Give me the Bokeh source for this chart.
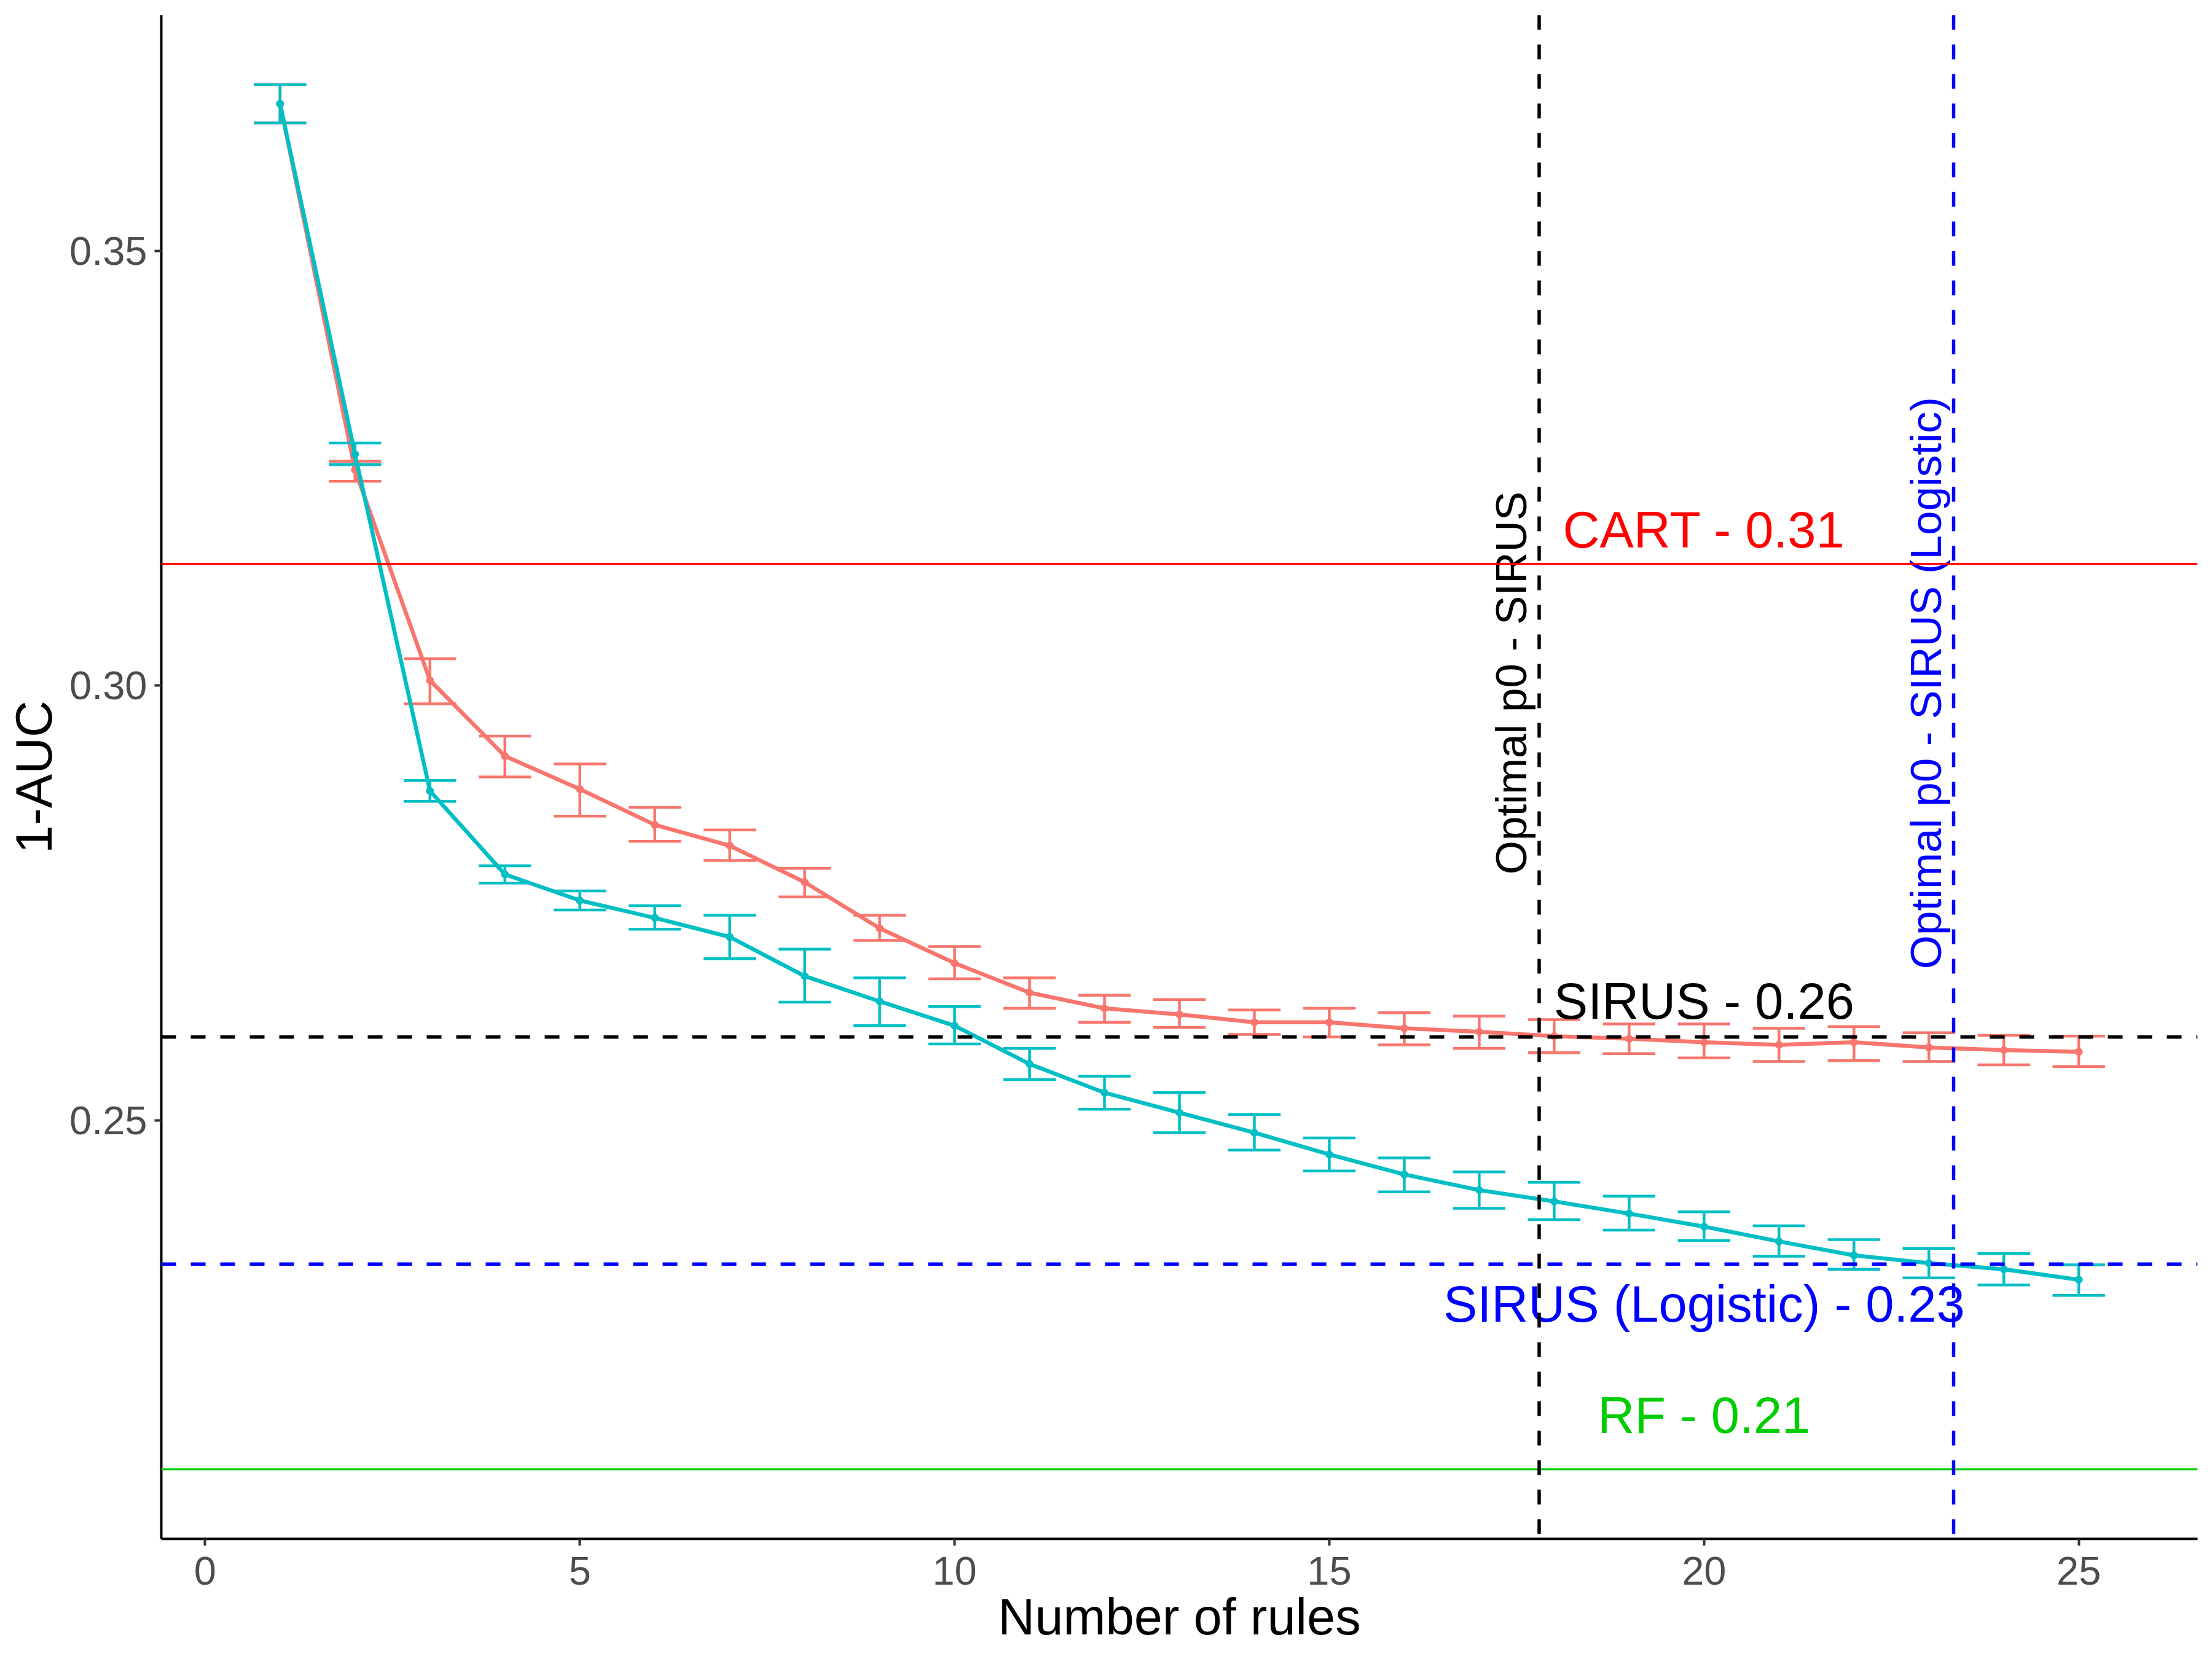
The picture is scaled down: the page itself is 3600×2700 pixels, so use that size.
import numpy as np
from bokeh.plotting import figure
from bokeh.models import Span, Range1d, FixedTicker, NumeralTickFormatter
from bokeh.core.properties import value
from bokeh.embed import file_html
from bokeh.resources import INLINE

# ---------------- data ----------------
n_rules = list(range(1, 26))

sirus_mean = [0.3669, 0.3248, 0.3006, 0.2919, 0.2881, 0.2840, 0.2816, 0.2774, 0.2721, 0.2681,
              0.2647, 0.2629, 0.2622, 0.2613, 0.2613, 0.2606, 0.2602, 0.2597, 0.2594, 0.2590,
              0.2587, 0.2590, 0.2584, 0.2581, 0.2579]
sirus_lo = [0.3647, 0.3235, 0.2979, 0.2895, 0.2850, 0.2821, 0.2799, 0.2757, 0.2707, 0.2663,
            0.2629, 0.2613, 0.2607, 0.2599, 0.2596, 0.2587, 0.2583, 0.2578, 0.2577, 0.2572,
            0.2568, 0.2569, 0.2568, 0.2564, 0.2562]
sirus_hi = [0.3691, 0.3258, 0.3031, 0.2942, 0.2910, 0.2860, 0.2834, 0.2790, 0.2736, 0.2700,
            0.2664, 0.2644, 0.2639, 0.2627, 0.2629, 0.2624, 0.2620, 0.2616, 0.2611, 0.2611,
            0.2606, 0.2608, 0.2601, 0.2598, 0.2597]

logit_mean = [0.3669, 0.3266, 0.2879, 0.2783, 0.2753, 0.2733, 0.2711, 0.2666, 0.2637, 0.2609,
              0.2565, 0.2532, 0.2509, 0.2486, 0.2461, 0.2438, 0.2420, 0.2407, 0.2393, 0.2378,
              0.2361, 0.2345, 0.2336, 0.2329, 0.2317]
logit_lo = [0.3647, 0.3254, 0.2867, 0.2773, 0.2742, 0.2720, 0.2686, 0.2636, 0.2609, 0.2588,
            0.2547, 0.2513, 0.2486, 0.2466, 0.2442, 0.2418, 0.2399, 0.2386, 0.2374, 0.2362,
            0.2344, 0.2329, 0.2319, 0.2311, 0.2299]
logit_hi = [0.3691, 0.3279, 0.2891, 0.2793, 0.2764, 0.2747, 0.2736, 0.2697, 0.2664, 0.2631,
            0.2583, 0.2551, 0.2532, 0.2507, 0.2480, 0.2457, 0.2441, 0.2429, 0.2413, 0.2395,
            0.2379, 0.2363, 0.2353, 0.2347, 0.2334]

ref_names = ["CART", "SIRUS", "SIRUS (Logistic)", "RF"]
ref_values = [0.3140, 0.2596, 0.2335, 0.2099]
ref_labels = ["CART - 0.31", "SIRUS - 0.26", "SIRUS (Logistic) - 0.23", "RF - 0.21"]

optimal_p0 = [17.80, 23.33]
optimal_labels = ["Optimal p0 - SIRUS", "Optimal p0 - SIRUS (Logistic)"]

x_ticks = [0, 5, 10, 15, 20, 25]
y_ticks = [0.25, 0.30, 0.35]

# ---------------- styles ----------------
FONT = "Liberation Sans"
RED_SERIES = "#F8766D"
TEAL_SERIES = "#00BFC4"
ref_colors = ["#FF0000", "#000000", "#0000FF", "#00CD00"]
ref_dashes = ["solid", "24 24", "24 24", "solid"]
ref_widths = [3.5, 5.5, 5.5, 3.5]
label_x = 20.0
label_y = [0.3179, 0.2637, 0.2289, 0.2161]
opt_colors = ["#000000", "#0000FF"]

p = figure(width=3584, height=2684, output_backend="svg", toolbar_location=None,
           x_range=Range1d(-0.585, 26.585), y_range=Range1d(0.2019, 0.3771),
           min_border_left=262, min_border_right=8, min_border_top=24,
           min_border_bottom=180)
p.xgrid.visible = False
p.ygrid.visible = False
p.outline_line_color = None
p.background_fill_color = "white"
p.border_fill_color = "white"

# ---------------- series ----------------
x = np.array(n_rules, dtype=float)
half = 0.35
for mean, lo, hi, col in [(sirus_mean, sirus_lo, sirus_hi, RED_SERIES),
                          (logit_mean, logit_lo, logit_hi, TEAL_SERIES)]:
    p.segment(x0=x, y0=lo, x1=x, y1=hi, line_color=col, line_width=4.5)
    p.segment(x0=x - half, y0=lo, x1=x + half, y1=lo, line_color=col, line_width=4.5)
    p.segment(x0=x - half, y0=hi, x1=x + half, y1=hi, line_color=col, line_width=4.5)
    p.line(x, mean, line_color=col, line_width=6.5)
    p.scatter(x, mean, size=12, fill_color=col, line_color=col)

# ---------------- reference lines and labels ----------------
for v, c, d, w in zip(ref_values, ref_colors, ref_dashes, ref_widths):
    p.add_layout(Span(location=v, dimension="width", line_color=c,
                      line_dash=d, line_width=w))

for lab, ly, c in zip(ref_labels, label_y, ref_colors):
    p.text(x=[label_x], y=[ly], text=[lab], text_color=c,
           text_font=value(FONT), text_font_size=value("83px"),
           text_align="center", text_baseline="alphabetic")

for xv, lab, c in zip(optimal_p0, optimal_labels, opt_colors):
    p.add_layout(Span(location=xv, dimension="height", line_color=c,
                      line_dash="24 24", line_width=5.5))
    p.text(x=[xv], y=[0.3003], text=[lab], text_color=c, angle=np.pi / 2,
           text_font=value(FONT), text_font_size=value("71px"),
           text_align="center", text_baseline="alphabetic", x_offset=-45)

# ---------------- axes ----------------
p.xaxis.ticker = FixedTicker(ticks=x_ticks)
p.yaxis.ticker = FixedTicker(ticks=y_ticks)
p.yaxis.formatter = NumeralTickFormatter(format="0.00")
p.xaxis.axis_label = "Number of rules"
p.yaxis.axis_label = "1-AUC"
for ax in (p.xaxis, p.yaxis):
    ax.axis_line_color = "black"
    ax.axis_line_width = 4
    ax.major_tick_line_color = "#333333"
    ax.major_tick_line_width = 4
    ax.major_tick_out = 11
    ax.major_tick_in = 0
    ax.minor_tick_line_color = None
    ax.major_label_text_font = FONT
    ax.major_label_text_font_size = "65px"
    ax.major_label_text_color = "#4D4D4D"
    ax.axis_label_text_font = FONT
    ax.axis_label_text_font_size = "83px"
    ax.axis_label_text_font_style = "normal"
    ax.axis_label_text_color = "black"
p.xaxis.major_label_standoff = 18
p.xaxis.axis_label_standoff = 3
p.yaxis.major_label_standoff = 12
p.yaxis.axis_label_standoff = 8

open("out.html", "w").write(file_html(p, INLINE))
